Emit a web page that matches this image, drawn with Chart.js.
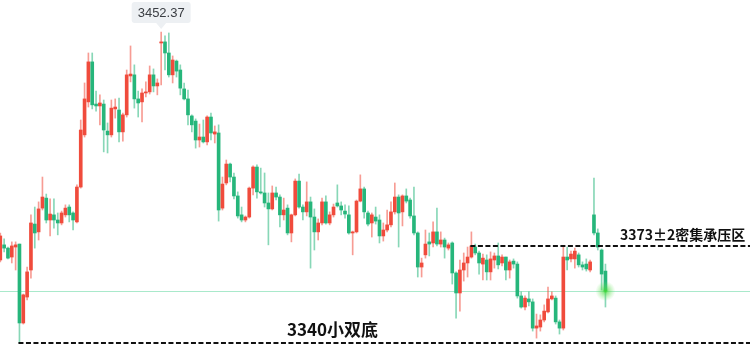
<!DOCTYPE html>
<html><head><meta charset="utf-8">
<script src="https://cdn.jsdelivr.net/npm/chart.js@4.4.1/dist/chart.umd.min.js"></script>
<style>html,body{margin:0;padding:0;background:#fff;overflow:hidden}canvas{display:block}</style>
</head><body>
<canvas id="c" width="750" height="361"></canvas>
<script>
// OHLC per candle (oldest -> newest)
const open = [
3368.0,3373.6,3372.4,3369.1,3372.8,3373.9,3344.7,3354.3,3364.3,3381.3,
3378.4,3387.2,3390.9,3382.8,3384.7,3382.8,3381.7,3384.7,3387.6,3385.4,
3382.1,3395.0,3414.3,3426.5,3441.3,3425.7,3425.0,3425.7,3415.7,3414.3,
3423.9,3423.5,3415.4,3421.7,3436.1,3436.5,3427.6,3426.5,3429.8,3430.2,
3436.5,3432.4,3448.3,3448.7,3444.6,3436.5,3441.6,3438.3,3431.3,3427.6,
3421.3,3419.4,3412.4,3413.5,3411.7,3420.9,3414.6,3415.0,3387.2,3396.5,
3403.5,3398.7,3391.7,3384.7,3382.8,3383.9,3394.6,3402.4,3393.2,3392.8,
3389.1,3386.9,3392.8,3391.3,3384.7,3387.2,3378.0,3384.7,3397.2,3387.6,
3385.8,3389.5,3383.9,3378.4,3381.7,3389.5,3381.7,3384.7,3389.1,3388.0,
3386.1,3384.7,3378.0,3378.4,3389.8,3394.3,3385.4,3381.7,3383.9,3382.8,
3376.9,3379.1,3381.0,3385.8,3391.3,3385.8,3391.7,3390.2,3384.3,3378.0,
3365.4,3369.9,3374.7,3374.3,3378.4,3373.9,3375.4,3372.4,3374.3,3363.2,
3355.8,3364.3,3366.9,3369.1,3372.8,3370.6,3366.5,3368.0,3363.6,3368.0,
3369.5,3366.9,3369.1,3364.3,3367.6,3366.5,3354.7,3350.6,3353.6,3352.5,
3342.8,3343.2,3345.8,3348.8,3353.6,3353.9,3345.1,3342.8,3369.1,3368.4,
3368.4,3369.9,3366.2,3366.5,3364.3,3384.7,3378.0,3371.7,3363.9];
const high = [
3378.0,3375.8,3372.8,3374.7,3374.7,3373.9,3355.4,3365.4,3384.7,3387.6,
3389.5,3398.7,3392.4,3390.6,3390.6,3385.4,3386.1,3388.4,3388.4,3385.8,
3395.8,3419.8,3433.5,3444.6,3444.6,3430.5,3429.1,3427.2,3418.7,3427.2,
3427.6,3427.9,3422.4,3438.3,3447.2,3440.2,3430.5,3431.3,3433.9,3439.8,
3438.7,3435.0,3452.37,3450.9,3452.0,3443.5,3442.0,3440.2,3433.5,3430.9,
3421.7,3420.2,3418.3,3419.8,3421.3,3422.4,3417.6,3418.0,3398.7,3405.0,
3403.9,3400.2,3393.2,3387.6,3384.3,3395.0,3402.8,3403.2,3402.0,3400.2,
3392.8,3395.4,3395.0,3392.1,3390.9,3388.4,3385.0,3398.0,3399.8,3388.4,
3396.9,3391.3,3386.9,3383.2,3390.9,3391.7,3385.8,3388.7,3395.8,3389.5,
3388.4,3388.0,3378.7,3390.2,3399.5,3395.0,3386.1,3385.4,3387.6,3384.7,
3381.7,3386.5,3389.5,3396.5,3392.1,3392.1,3394.3,3390.9,3395.0,3378.4,
3368.7,3379.1,3378.0,3382.1,3387.2,3378.4,3376.1,3374.3,3374.7,3363.6,
3368.0,3370.6,3372.8,3378.4,3373.9,3371.3,3370.2,3369.9,3371.0,3370.6,
3374.3,3369.9,3369.1,3368.0,3368.4,3367.3,3356.2,3354.7,3356.2,3353.6,
3348.0,3347.7,3351.4,3358.0,3356.2,3354.7,3345.8,3372.8,3372.8,3371.3,
3372.4,3370.6,3367.3,3368.4,3368.0,3398.3,3379.5,3372.1,3366.5];
const low = [
3367.3,3371.0,3368.4,3366.9,3364.3,3337.3,3344.3,3353.2,3361.3,3372.4,
3375.4,3386.5,3381.7,3376.9,3379.8,3377.3,3381.0,3383.9,3382.1,3379.1,
3381.7,3394.6,3413.5,3424.6,3423.9,3423.1,3418.0,3408.0,3407.6,3413.5,
3420.5,3411.7,3412.0,3420.9,3433.9,3424.2,3420.9,3419.1,3428.3,3429.4,
3430.2,3429.1,3432.8,3438.3,3435.7,3433.5,3435.7,3429.1,3427.2,3418.0,
3415.4,3409.4,3409.8,3411.3,3410.6,3412.4,3411.3,3382.4,3386.5,3395.8,
3396.9,3390.6,3383.5,3382.1,3382.1,3383.5,3392.1,3390.9,3392.4,3387.6,
3373.6,3386.5,3390.2,3380.2,3382.8,3377.3,3374.7,3384.3,3387.2,3382.8,
3384.3,3365.0,3371.7,3375.4,3381.0,3381.3,3381.0,3383.9,3387.6,3384.7,
3383.5,3377.6,3369.9,3378.0,3389.5,3383.5,3380.6,3376.5,3381.3,3374.3,
3375.0,3378.4,3380.2,3385.0,3372.8,3380.6,3389.1,3383.5,3377.3,3361.7,
3361.7,3368.7,3369.5,3372.8,3373.2,3372.8,3368.7,3371.7,3359.1,3346.5,
3349.1,3360.2,3361.7,3368.7,3369.9,3362.8,3360.6,3360.6,3360.6,3365.0,
3364.7,3365.8,3360.6,3361.3,3365.0,3353.9,3350.2,3349.5,3351.0,3341.7,
3339.1,3341.7,3345.1,3348.4,3353.2,3344.3,3340.6,3342.1,3364.3,3367.3,
3365.0,3365.4,3364.3,3363.9,3363.6,3377.3,3371.7,3356.9,3350.6];
const close = [
3376.9,3372.4,3368.7,3373.2,3373.6,3344.7,3355.1,3363.6,3381.7,3378.0,
3386.9,3391.3,3382.8,3385.0,3382.8,3381.7,3385.4,3387.2,3384.7,3382.8,
3395.0,3416.1,3427.6,3441.3,3425.4,3425.0,3426.1,3416.1,3414.3,3424.2,
3424.6,3415.4,3421.7,3436.5,3436.8,3427.6,3426.1,3429.8,3430.2,3436.5,
3432.4,3433.5,3448.7,3444.6,3436.5,3442.0,3437.9,3431.6,3427.6,3421.7,
3418.0,3412.4,3413.5,3411.7,3420.9,3415.0,3415.4,3386.5,3396.1,3403.5,
3398.7,3391.7,3384.3,3382.8,3383.9,3394.6,3402.4,3393.2,3392.8,3389.1,
3386.9,3392.8,3391.3,3384.7,3386.5,3378.0,3384.7,3397.2,3387.6,3385.8,
3389.5,3383.9,3378.4,3381.7,3389.5,3381.7,3384.7,3387.6,3388.0,3386.5,
3385.0,3378.0,3378.4,3389.8,3394.3,3385.8,3381.3,3384.7,3382.4,3376.9,
3379.1,3381.0,3385.8,3391.3,3385.4,3391.7,3389.8,3384.3,3378.0,3365.4,
3366.9,3373.9,3373.9,3378.4,3373.9,3375.4,3372.8,3373.6,3363.2,3355.8,
3364.3,3366.9,3369.1,3373.2,3370.6,3366.9,3368.7,3363.6,3368.4,3369.5,
3366.2,3369.1,3364.3,3367.3,3366.5,3354.7,3350.6,3353.9,3352.5,3342.8,
3343.6,3345.8,3349.1,3353.6,3354.7,3345.1,3342.8,3369.1,3368.0,3370.2,
3371.3,3366.2,3365.4,3364.7,3367.3,3378.0,3372.8,3362.8,3356.5];

const peakLabel = '3452.37';
const resistanceLevel = 3373;
const resistanceLabel = '3373±2密集承压区';
const resistanceFrom = 123;   // candle index where the dashed line begins
const supportLevel = 3337.2;
const supportLabel = '3340小双底';
const supportFrom = 5;
const lastPrice = close[close.length - 1];

const UP = '#f04b3c', DOWN = '#26b67b';
const UPW = 'rgba(240,75,60,0.55)', DOWNW = 'rgba(38,182,123,0.55)';

const idx = open.map((_, i) => i);
const isUp = idx.map(i => close[i] >= open[i]);

const overlay = {
  id: 'overlay',
  beforeDatasetsDraw(chart) {
    const {ctx, scales: {x, y}} = chart;
    const yp = Math.round(y.getPixelForValue(lastPrice)) + 0.5;
    ctx.save();
    ctx.strokeStyle = '#a9e9cb';
    ctx.lineWidth = 1.2;
    ctx.beginPath(); ctx.moveTo(0, yp); ctx.lineTo(chart.width, yp); ctx.stroke();
    ctx.restore();
  },
  afterDatasetsDraw(chart) {
    const {ctx, scales: {x, y}} = chart;
    ctx.save();
    // dashed levels
    ctx.strokeStyle = '#111';
    ctx.lineWidth = 2;
    ctx.setLineDash([5, 2.5]);
    const ry = Math.round(y.getPixelForValue(resistanceLevel));
    ctx.beginPath(); ctx.moveTo(x.getPixelForValue(resistanceFrom) - 1, ry); ctx.lineTo(chart.width, ry); ctx.stroke();
    const sy = Math.round(y.getPixelForValue(supportLevel));
    ctx.beginPath(); ctx.moveTo(x.getPixelForValue(supportFrom) - 1, sy); ctx.lineTo(chart.width, sy); ctx.stroke();
    ctx.setLineDash([]);
    // texts
    ctx.fillStyle = '#111';
    ctx.textBaseline = 'middle';
    ctx.textAlign = 'left';
    ctx.font = 'bold 14px "Noto Sans CJK SC", sans-serif';
    ctx.fillText(resistanceLabel, 620, ry - 11);
    ctx.font = 'bold 17px "Noto Sans CJK SC", sans-serif';
    ctx.fillText(supportLabel, 287, sy - 13);
    // peak tooltip
    let pi = 0; high.forEach((v, i) => { if (v > high[pi]) pi = i; });
    const px = x.getPixelForValue(pi), py = y.getPixelForValue(high[pi]);
    ctx.font = '13px "Liberation Sans", Arial, sans-serif';
    const tw = ctx.measureText(peakLabel).width;
    const bw = tw + 12, bh = 21, bb = py - 9, bt = bb - bh, bl = px - bw / 2;
    ctx.fillStyle = '#edf0f3';
    ctx.beginPath();
    ctx.roundRect(bl, bt, bw, bh, 3);
    ctx.fill();
    ctx.beginPath();
    ctx.moveTo(px - 5, bb); ctx.lineTo(px + 5, bb); ctx.lineTo(px, bb + 6); ctx.closePath(); ctx.fill();
    ctx.fillStyle = '#3a3d42';
    ctx.textAlign = 'center';
    ctx.fillText(peakLabel, px, bt + bh / 2 + 0.5);
    // last price glow
    const lx = x.getPixelForValue(idx.length - 1), ly = y.getPixelForValue(lastPrice);
    const g = ctx.createRadialGradient(lx, ly, 0, lx, ly, 10);
    g.addColorStop(0, 'rgba(60,215,50,1)');
    g.addColorStop(0.25, 'rgba(80,220,70,0.6)');
    g.addColorStop(1, 'rgba(120,230,110,0)');
    ctx.fillStyle = g;
    ctx.beginPath(); ctx.arc(lx, ly, 10, 0, Math.PI * 2); ctx.fill();
    ctx.restore();
  }
};

new Chart(document.getElementById('c'), {
  type: 'bar',
  data: {
    datasets: [
      {
        label: 'wick',
        data: idx.map(i => ({x: i, y: [low[i], high[i]]})),
        backgroundColor: idx.map(i => isUp[i] ? UPW : DOWNW),
        barThickness: 1,
        grouped: false,
        borderWidth: 0,
        order: 2
      },
      {
        label: 'body',
        data: idx.map(i => ({x: i, y: [open[i], close[i]]})),
        backgroundColor: idx.map(i => isUp[i] ? UP : DOWN),
        barThickness: 3,
        minBarLength: 1,
        grouped: false,
        borderWidth: 0,
        order: 1
      }
    ]
  },
  options: {
    responsive: false,
    animation: false,
    devicePixelRatio: 1,
    layout: {padding: 0},
    plugins: {legend: {display: false}, tooltip: {enabled: false}},
    scales: {
      x: {type: 'linear', min: -0.08, max: 195.74, offset: false, display: false},
      y: {min: 3330.63, max: 3464.2, display: false}
    }
  },
  plugins: [overlay]
});
</script>
</body></html>
